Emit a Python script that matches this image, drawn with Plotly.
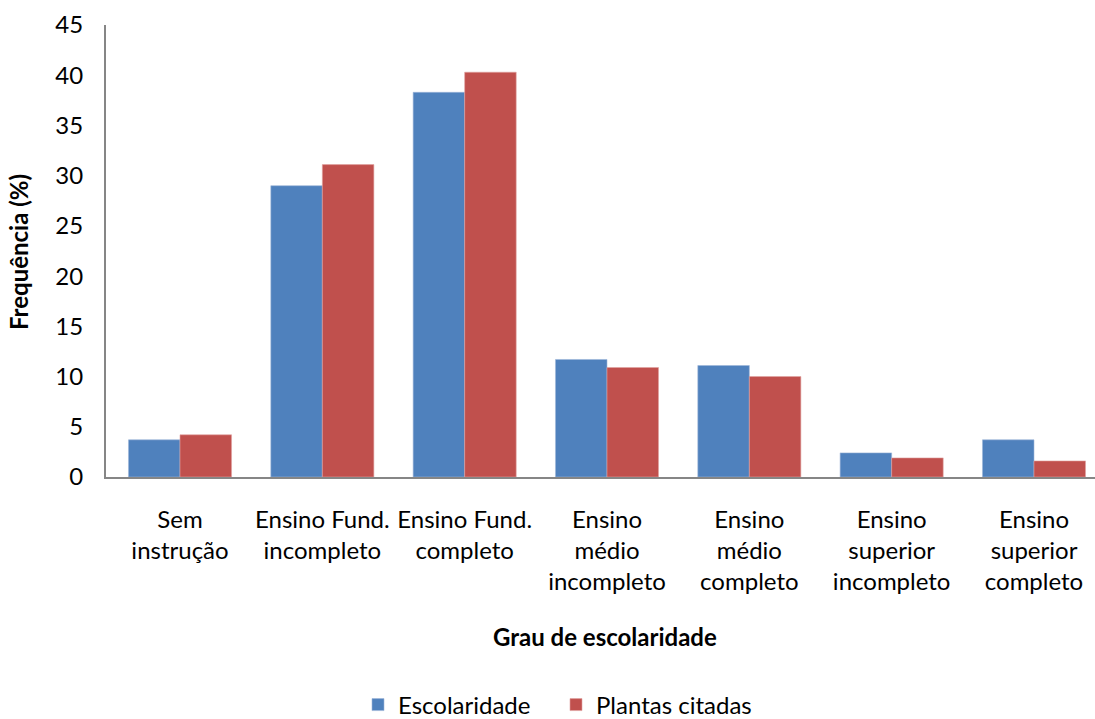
import plotly.graph_objects as go

categories = ["Sem<br>instrução", "Ensino Fund.<br>incompleto", "Ensino Fund.<br>completo",
              "Ensino<br>médio<br>incompleto", "Ensino<br>médio<br>completo",
              "Ensino<br>superior<br>incompleto", "Ensino<br>superior<br>completo"]
escolaridade = [3.7, 29.0, 38.3, 11.7, 11.1, 2.4, 3.7]
plantas = [4.2, 31.1, 40.3, 10.9, 10.0, 1.9, 1.6]

W, H = 1095, 719
L, R, T, B = 106, 0, 25, 242
FONT = "Lato, Carlito, Calibri, sans-serif"
FS = 24

fig = go.Figure()
fig.add_trace(go.Bar(x=categories, y=escolaridade, name="Escolaridade",
                     marker=dict(color="#4F81BD", line=dict(color="#9DB6D9", width=0.6))))
fig.add_trace(go.Bar(x=categories, y=plantas, name="Plantas citadas",
                     marker=dict(color="#C0504D", line=dict(color="#E0A3A1", width=0.6))))

fig.update_layout(
    width=W, height=H,
    margin=dict(l=L, r=R, t=T, b=B, pad=0, autoexpand=False),
    paper_bgcolor="white", plot_bgcolor="white",
    font=dict(family=FONT, size=FS, color="black"),
    barmode="group", bargap=0.276, bargroupgap=0,
    showlegend=True,
    legend=dict(orientation="h", x=(556 - L) / (W - L - R), xanchor="center",
                yref="paper", y=-(705 - (H - B)) / (H - T - B), yanchor="middle",
                font=dict(size=FS), itemwidth=30, traceorder="normal",
                entrywidth=153, entrywidthmode="pixels", tracegroupgap=0),
    xaxis=dict(range=[-0.52, 6.4286], showline=True, linecolor="#868686", linewidth=2,
               ticks="", showgrid=False, tickfont=dict(size=FS),
               ticklabelstandoff=20, fixedrange=True, automargin=False),
    yaxis=dict(range=[0, 45], dtick=5, showline=True, linecolor="#868686", linewidth=2,
               ticks="", showgrid=False, zeroline=False, tickfont=dict(size=FS),
               ticklabelstandoff=16, automargin=False),
    annotations=[
        dict(text="<b>Grau de escolaridade</b>", xref="paper", yref="paper",
             x=(605 - L) / (W - L - R), y=-(636 - (H - B)) / (H - T - B),
             showarrow=False, font=dict(size=FS), xanchor="center", yanchor="middle"),
        dict(text="<b>Frequência (%)</b>", xref="paper", yref="paper",
             x=-(L - 18) / (W - L - R), y=((H - B) - 252) / (H - T - B),
             showarrow=False, font=dict(size=FS), textangle=-90,
             xanchor="center", yanchor="middle"),
    ],
)

fig.write_html("out.html")
